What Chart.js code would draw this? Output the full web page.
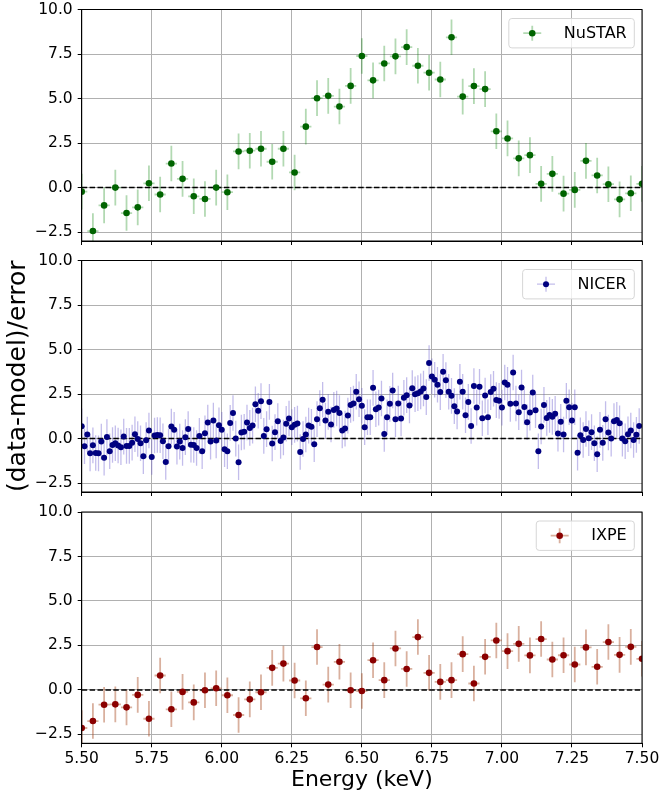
<!DOCTYPE html>
<html>
<head>
<meta charset="utf-8">
<script src="https://cdn.jsdelivr.net/npm/chart.js@4.4.0/dist/chart.umd.min.js"></script>
<style>
  body { margin: 0; background: #fff; }
  #wrap { position: relative; width: 663px; height: 798px; }
  .panel { position: absolute; left: 0; width: 663px; }
</style>
</head>
<body>
<div id="wrap">
  <div class="panel" style="top:0px;height:250px"><canvas id="nustarChart" width="663" height="250"></canvas></div>
  <div class="panel" style="top:251px;height:250px"><canvas id="nicerChart" width="663" height="250"></canvas></div>
  <div class="panel" style="top:502px;height:296px"><canvas id="ixpeChart" width="663" height="296"></canvas></div>
</div>
<script>
// axis ticks
var xTicks = [5.5, 5.75, 6.0, 6.25, 6.5, 6.75, 7.0, 7.25, 7.5];
var yTicks = [-2.5, 0, 2.5, 5, 7.5, 10];

// NuSTAR residuals
var nustarE = [5.50,5.54,5.58,5.62,5.66,5.70,5.74,5.78,5.82,5.86,5.90,5.94,5.98,6.02,6.06,6.10,6.14,6.18,6.22,6.26,
  6.30,6.34,6.38,6.42,6.46,6.50,6.54,6.58,6.62,6.66,6.70,6.74,6.78,6.82,6.86,6.90,6.94,6.98,7.02,7.06,
  7.10,7.14,7.18,7.22,7.26,7.30,7.34,7.38,7.42,7.46,7.50];
var nustarR = [-0.23,-2.44,-1.00,0.00,-1.43,-1.11,0.24,-0.39,1.35,0.49,
  -0.49,-0.64,0.00,-0.26,2.03,2.07,2.18,1.45,2.18,0.85,
  3.42,5.02,5.15,4.55,5.71,7.39,6.02,6.97,7.37,7.89,
  6.84,6.45,6.07,8.44,5.11,5.70,5.53,3.16,2.76,1.64,
  1.82,0.21,0.77,-0.34,-0.13,1.50,0.68,0.19,-0.66,-0.32,
  0.21];

// NICER residuals
var nicerE = [5.50,5.51,5.52,5.53,5.54,5.55,5.56,5.57,5.58,5.59,
  5.60,5.61,5.62,5.63,5.64,5.65,5.66,5.67,5.68,5.69,
  5.70,5.71,5.72,5.73,5.74,5.75,5.76,5.77,5.78,5.79,
  5.80,5.81,5.82,5.83,5.84,5.85,5.86,5.87,5.88,5.89,
  5.90,5.91,5.92,5.93,5.94,5.95,5.96,5.97,5.98,5.99,
  6.00,6.01,6.02,6.03,6.04,6.05,6.06,6.07,6.08,6.09,
  6.10,6.11,6.12,6.13,6.14,6.15,6.16,6.17,6.18,6.19,
  6.20,6.21,6.22,6.23,6.24,6.25,6.26,6.27,6.28,6.29,
  6.30,6.31,6.32,6.33,6.34,6.35,6.36,6.37,6.38,6.39,
  6.40,6.41,6.42,6.43,6.44,6.45,6.46,6.47,6.48,6.49,
  6.50,6.51,6.52,6.53,6.54,6.55,6.56,6.57,6.58,6.59,
  6.60,6.61,6.62,6.63,6.64,6.65,6.66,6.67,6.68,6.69,
  6.70,6.71,6.72,6.73,6.74,6.75,6.76,6.77,6.78,6.79,
  6.80,6.81,6.82,6.83,6.84,6.85,6.86,6.87,6.88,6.89,
  6.90,6.91,6.92,6.93,6.94,6.95,6.96,6.97,6.98,6.99,
  7.00,7.01,7.02,7.03,7.04,7.05,7.06,7.07,7.08,7.09,
  7.10,7.11,7.12,7.13,7.14,7.15,7.16,7.17,7.18,7.19,
  7.20,7.21,7.22,7.23,7.24,7.25,7.26,7.27,7.28,7.29,
  7.30,7.31,7.32,7.33,7.34,7.35,7.36,7.37,7.38,7.39,
  7.40,7.41,7.42,7.43,7.44,7.45,7.46,7.47,7.48,7.49];
var nicerR = [0.69,-0.43,0.23,-0.83,-0.38,-0.81,-0.83,-0.17,-1.07,0.09,
  -0.71,-0.36,-0.26,-0.39,-0.49,0.11,-0.41,-0.41,-0.23,0.24,
  -0.02,-0.26,-0.99,-0.09,0.45,-1.03,0.17,0.20,0.19,-0.15,
  -1.31,-0.43,0.68,0.49,-0.45,-0.17,-0.53,0.08,0.54,-0.34,
  -0.36,-0.53,0.15,-0.71,0.30,0.90,-0.17,1.01,-0.11,0.75,
  0.49,-0.60,-0.71,0.88,1.44,0.00,-1.33,0.34,0.38,0.90,
  0.60,0.73,1.93,1.56,2.10,0.15,0.53,2.06,-0.28,0.36,
  0.98,-0.13,0.06,0.83,1.13,0.64,0.77,0.84,-0.75,-0.02,
  0.23,0.73,0.66,-0.32,1.09,1.71,2.18,1.01,1.50,0.79,
  1.61,1.69,1.43,0.45,0.56,1.29,1.89,1.97,2.63,2.21,
  1.84,0.64,1.20,1.20,2.85,1.65,1.74,2.25,0.26,1.20,
  1.95,2.70,1.09,1.97,1.13,2.29,2.44,1.86,2.83,2.49,
  2.55,2.65,2.81,2.33,4.24,3.49,3.30,3.02,2.61,3.75,
  3.28,2.63,2.40,1.82,1.52,3.19,2.63,1.31,2.06,0.71,
  2.95,1.74,2.91,1.14,2.42,1.20,2.61,2.80,2.16,2.12,
  1.74,3.15,3.02,1.95,3.71,1.97,1.48,2.87,1.78,0.92,
  1.46,2.59,1.59,-0.71,0.68,1.89,1.16,1.33,1.22,1.39,
  0.28,0.94,0.23,2.12,1.76,1.01,1.76,-0.79,0.19,-0.08,
  0.54,0.02,0.36,-0.26,-0.88,0.49,-0.24,1.09,0.34,0.00,
  0.98,1.05,0.86,0.00,-0.15,0.24,0.45,-0.08,0.21,0.71];

// IXPE residuals
var ixpeE = [5.50,5.54,5.58,5.62,5.66,5.70,5.74,5.78,5.82,5.86,5.90,5.94,5.98,6.02,6.06,6.10,6.14,6.18,6.22,6.26,
  6.30,6.34,6.38,6.42,6.46,6.50,6.54,6.58,6.62,6.66,6.70,6.74,6.78,6.82,6.86,6.90,6.94,6.98,7.02,7.06,
  7.10,7.14,7.18,7.22,7.26,7.30,7.34,7.38,7.42,7.46,7.50];
var ixpeR = [-2.14,-1.75,-0.83,-0.81,-0.98,-0.28,-1.62,0.81,-1.09,-0.11,
  -0.70,-0.02,0.09,-0.30,-1.41,-0.53,-0.13,1.24,1.48,0.53,
  -0.47,2.41,0.30,1.58,-0.02,-0.06,1.67,0.55,2.33,1.18,
  2.97,0.96,0.45,0.55,2.01,0.36,1.86,2.78,2.18,2.59,
  1.94,2.86,1.71,1.95,1.43,2.39,1.30,2.69,1.97,2.42,
  1.75];

Chart.defaults.font.family = '"DejaVu Sans", sans-serif';
Chart.defaults.color = '#000';

// vertical (1 sigma) and horizontal (half bin) error bars, under the markers
var errorBarsPlugin = {
  id: 'errorBars',
  beforeDatasetsDraw: function(chart) {
    var o = chart.options.plugins.errorBars;
    var ctx = chart.ctx, a = chart.chartArea;
    var xs = chart.scales.x, ys = chart.scales.y;
    ctx.save();
    ctx.beginPath();
    ctx.rect(a.left, a.top, a.right - a.left, a.bottom - a.top);
    ctx.clip();
    ctx.strokeStyle = o.color;
    ctx.lineWidth = o.width;
    chart.data.datasets[0].data.forEach(function(p) {
      var px = xs.getPixelForValue(p.x), py = ys.getPixelForValue(p.y);
      ctx.beginPath();
      ctx.moveTo(px, ys.getPixelForValue(p.y - o.yerr));
      ctx.lineTo(px, ys.getPixelForValue(p.y + o.yerr));
      ctx.moveTo(xs.getPixelForValue(p.x - o.xerr), py);
      ctx.lineTo(xs.getPixelForValue(p.x + o.xerr), py);
      ctx.stroke();
    });
    ctx.restore();
  }
};

// axes frame + boxed legend in the upper right corner
var framePlugin = {
  id: 'frameLegend',
  afterDraw: function(chart) {
    var o = chart.options.plugins.errorBars;
    var ctx = chart.ctx, a = chart.chartArea;
    ctx.save();
    ctx.strokeStyle = '#000';
    ctx.lineWidth = 1;
    ctx.strokeRect(a.left, a.top, a.right - a.left, a.bottom - a.top);

    var label = chart.data.datasets[0].label;
    ctx.font = '16px "DejaVu Sans"';
    var tw = ctx.measureText(label).width;
    var w = 23.4 + 31.6 + tw + 7.6, h = 29.4;
    var bx = a.right - 7.7 - w, by = a.top + 9;
    ctx.beginPath();
    ctx.roundRect(bx, by, w, h, 3);
    ctx.fillStyle = 'rgba(255,255,255,0.8)';
    ctx.fill();
    ctx.strokeStyle = '#d6d6d6';
    ctx.stroke();

    var mx = bx + 23.4, my = by + h / 2;
    ctx.strokeStyle = o.color;
    ctx.lineWidth = o.width;
    ctx.beginPath();
    ctx.moveTo(mx - 9, my); ctx.lineTo(mx + 9, my);
    ctx.moveTo(mx, my - 7.5); ctx.lineTo(mx, my + 7.5);
    ctx.stroke();
    ctx.fillStyle = o.marker;
    ctx.beginPath();
    ctx.arc(mx, my, o.radius, 0, Math.PI * 2);
    ctx.fill();

    ctx.fillStyle = '#000';
    ctx.textBaseline = 'middle';
    ctx.fillText(label, mx + 31.6, my + 0.5);
    ctx.restore();
  }
};

function residual_panel(id, energies, resid, style) {
  var points = energies.map(function(e, i) { return {x: e, y: resid[i]}; });
  var zero = [{x: xTicks[0], y: 0}, {x: xTicks[xTicks.length - 1], y: 0}];
  var gridOpts = { color: '#b0b0b0', lineWidth: 1, tickLength: 4, tickColor: '#000' };
  var borderOpts = { display: true, color: '#000', width: 1 };

  return new Chart(document.getElementById(id), {
    type: 'scatter',
    data: {
      datasets: [
        {
          label: style.label,
          data: points,
          pointRadius: style.radius,
          pointBackgroundColor: style.color,
          pointBorderWidth: 0,
          clip: 0
        },
        {
          label: 'zero',
          data: zero,
          showLine: true,
          borderColor: '#000',
          borderWidth: 1.5,
          borderDash: [5.5, 2.4],
          pointRadius: 0
        }
      ]
    },
    options: {
      responsive: false,
      animation: false,
      events: [],
      layout: { padding: { top: style.padTop, right: 21, left: 0, bottom: 0 } },
      plugins: {
        legend: { display: false },
        tooltip: { enabled: false },
        errorBars: { color: style.errColor, width: style.errWidth, xerr: style.xerr, yerr: 1,
                     marker: style.color, radius: style.radius }
      },
      scales: {
        x: {
          type: 'linear',
          min: xTicks[0],
          max: xTicks[xTicks.length - 1],
          afterBuildTicks: function(s) { s.ticks = xTicks.map(function(v) { return {value: v}; }); },
          afterFit: function(s) { s.height = style.bottom ? 54.7 : 9; },
          ticks: {
            display: style.bottom,
            font: { size: 15.5 },
            padding: 2.5,
            maxRotation: 0,
            callback: function(v) { return v.toFixed(2); }
          },
          grid: gridOpts,
          border: borderOpts,
          title: { display: style.bottom, text: 'Energy (keV)', font: { size: 22 }, padding: { top: 0, bottom: 4.5 } }
        },
        y: {
          min: -3,
          max: 10,
          afterBuildTicks: function(s) { s.ticks = yTicks.map(function(v) { return {value: v}; }); },
          // fixed axis width, and no extra room for the end labels
          afterFit: function(s) { s.width = 81.7; s.paddingTop = 0; s.paddingBottom = 0; },
          ticks: {
            font: { size: 15.5 },
            padding: 5,
            callback: function(v) { return v.toFixed(1).replace('-', '\u2212'); }
          },
          grid: gridOpts,
          border: borderOpts,
          title: { display: style.ytitle, text: '(data-model)/error', font: { size: 25 }, padding: { top: 3, bottom: 0 } }
        }
      }
    },
    plugins: [errorBarsPlugin, framePlugin]
  });
}

residual_panel('nustarChart', nustarE, nustarR, {
  label: 'NuSTAR', color: '#006400', errColor: 'rgba(0,128,0,0.3)', errWidth: 1.8,
  radius: 3.3, xerr: 0.02, padTop: 9.5, bottom: false, ytitle: false
});
residual_panel('nicerChart', nicerE, nicerR, {
  label: 'NICER', color: '#000080', errColor: 'rgba(106,90,205,0.4)', errWidth: 1.3,
  radius: 3, xerr: 0.005, padTop: 9.5, bottom: false, ytitle: true
});
residual_panel('ixpeChart', ixpeE, ixpeR, {
  label: 'IXPE', color: '#8b0000', errColor: 'rgba(170,80,40,0.45)', errWidth: 1.8,
  radius: 3.3, xerr: 0.02, padTop: 10, bottom: true, ytitle: false
});
</script>
</body>
</html>
